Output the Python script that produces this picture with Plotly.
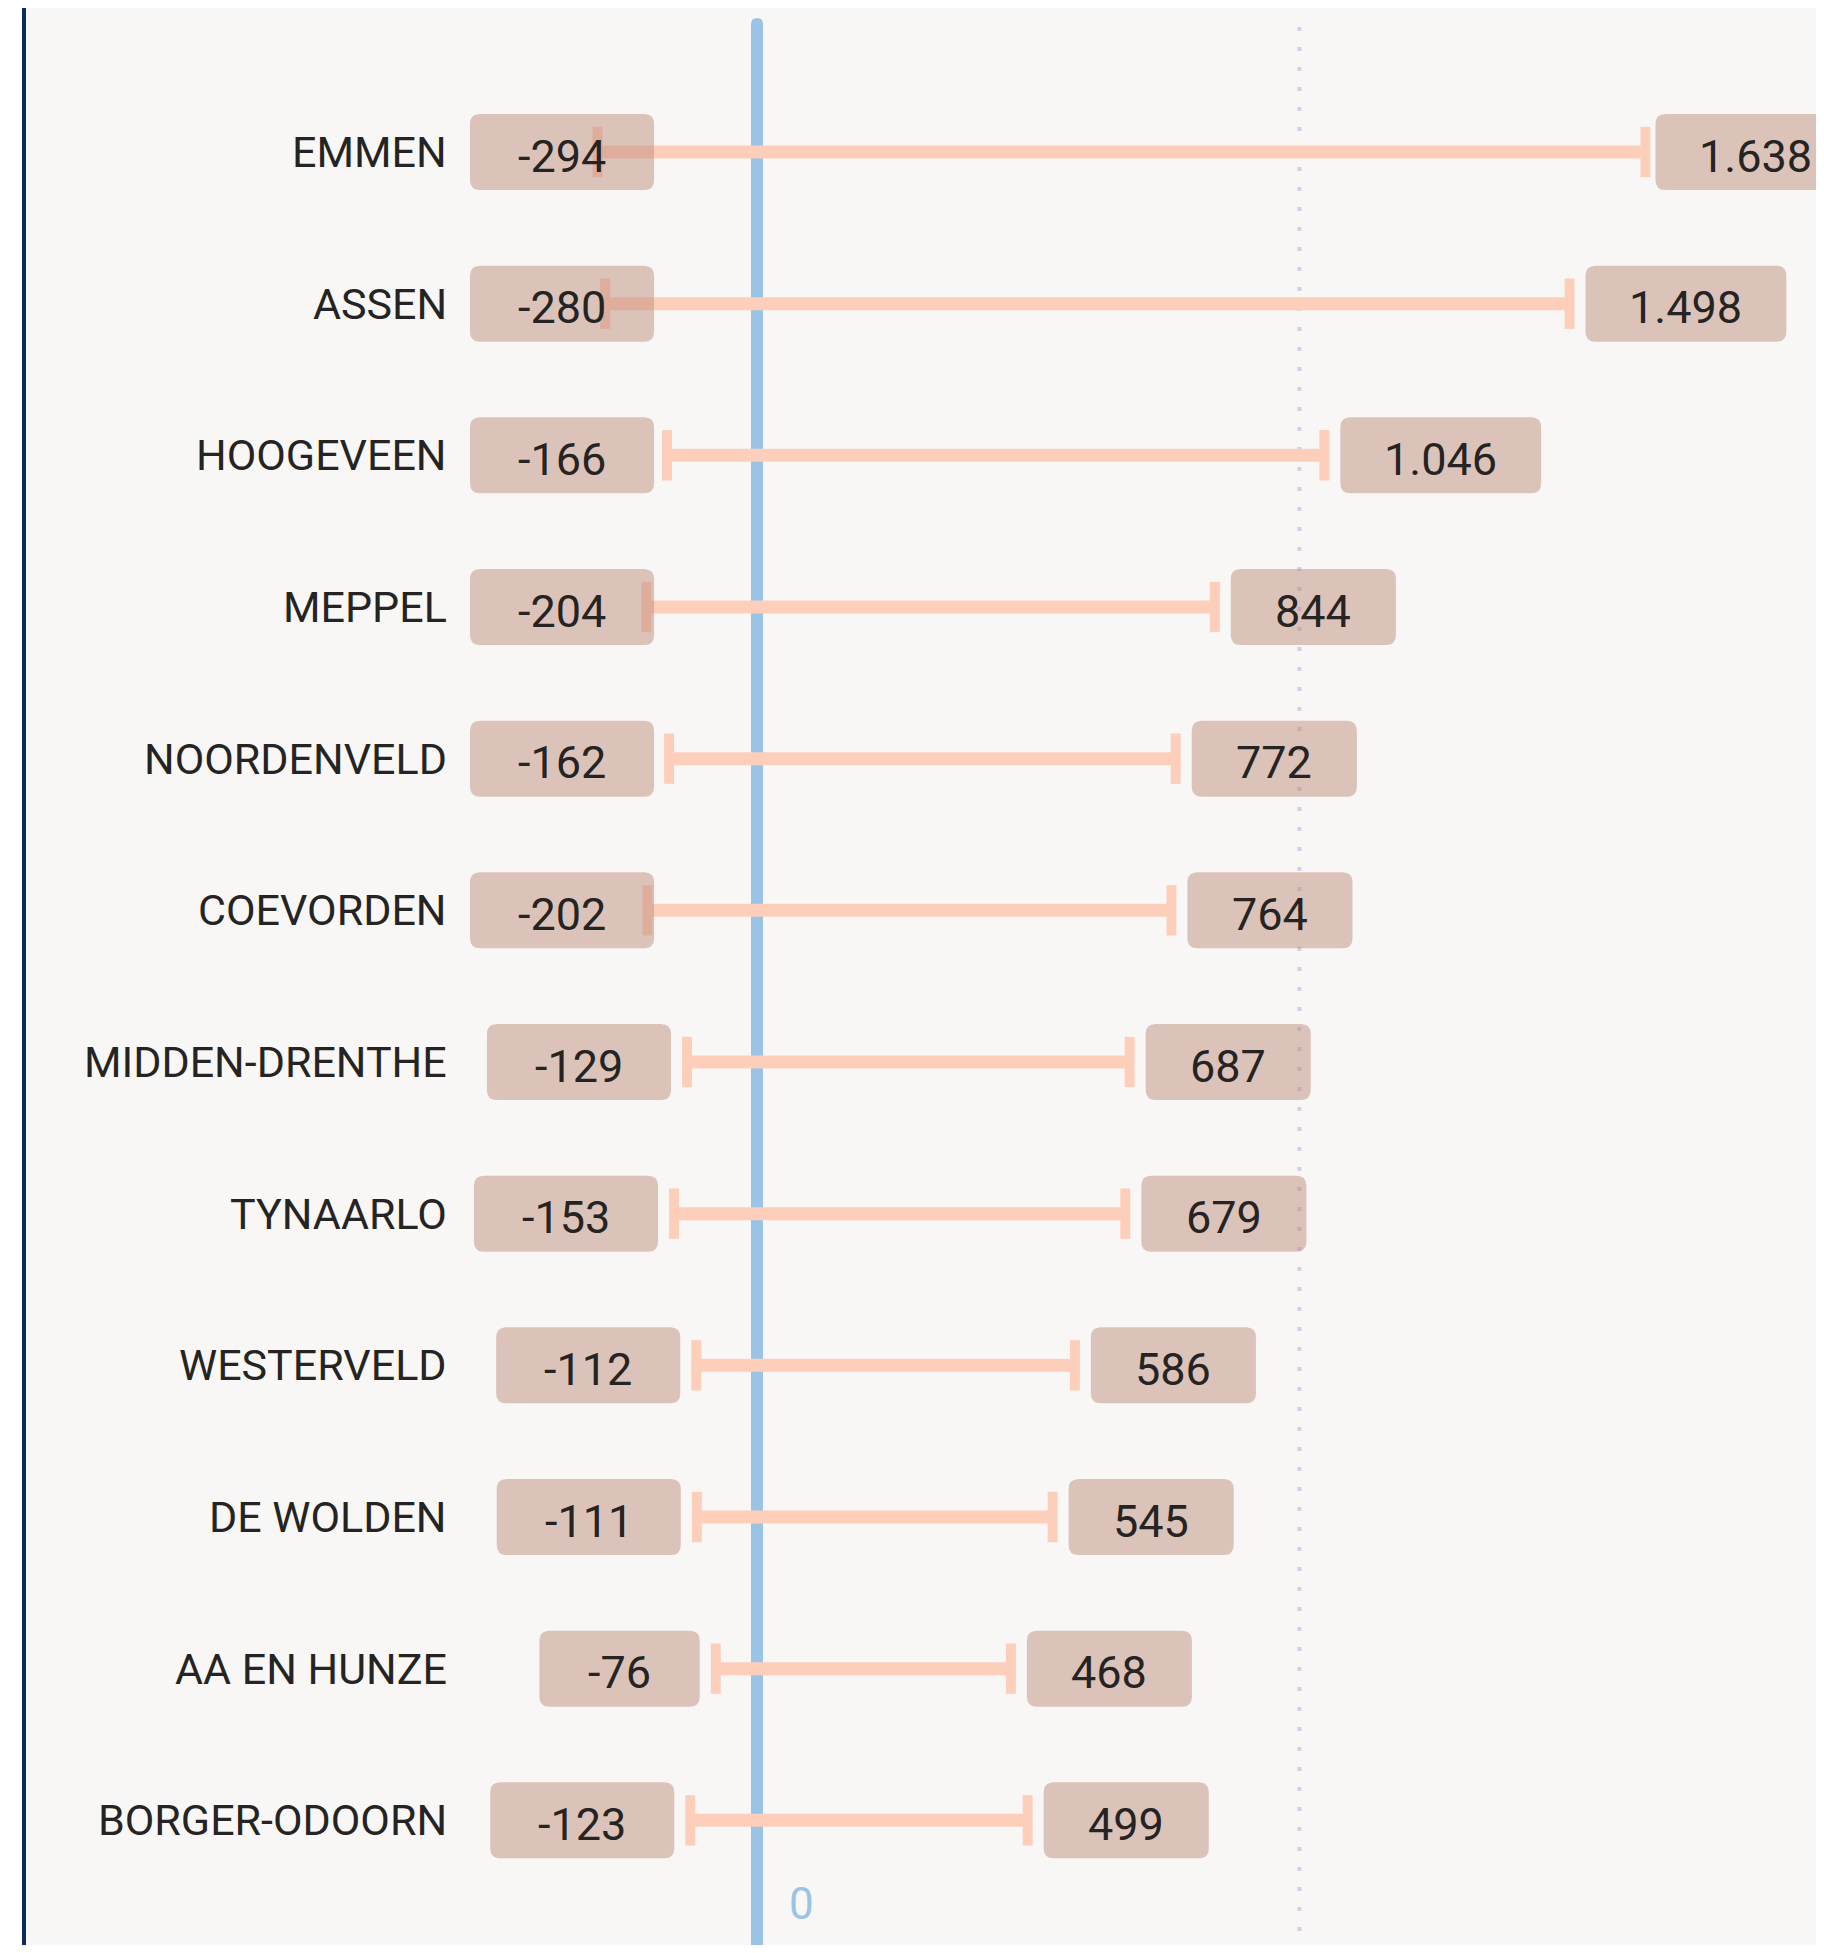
import plotly.graph_objects as go

# gemeenten, van boven naar beneden
gemeenten = ["EMMEN", "ASSEN", "HOOGEVEEN", "MEPPEL", "NOORDENVELD", "COEVORDEN",
             "MIDDEN-DRENTHE", "TYNAARLO", "WESTERVELD", "DE WOLDEN", "AA EN HUNZE",
             "BORGER-ODOORN"]
laag = [-294, -280, -166, -204, -162, -202, -129, -153, -112, -111, -76, -123]
hoog = [1638, 1498, 1046, 844, 772, 764, 687, 679, 586, 545, 468, 499]
gridwaarde = 1000

# pagina heeft 8px body-marge, dus figuur iets kleiner dan het venster
W, H = 1808, 1937
ML = 14
X0, X1 = -1355.1, 1952.4
Y0, Y1 = 11.822, -0.9495

FONT = "Roboto, Liberation Sans, sans-serif"
TXT = "#252423"
LIJN = "#FDCFBB"
VAL = 45


def px(v):
    return ML + (v - X0) / (X1 - X0) * (W - ML)


def fmt(v):
    return f"{v:,}".replace(",", ".")


def boxbreedte(s):
    w = 0
    for c in s:
        if c == "-":
            w += 19
        elif c == ".":
            w += 12
        else:
            w += 23.7
    return w + 94


def rrect(a, b, h=38, r=10):
    return (f"M{a+r},{-h} L{b-r},{-h} Q{b},{-h} {b},{-h+r} L{b},{h-r} Q{b},{h} {b-r},{h} "
            f"L{a+r},{h} Q{a},{h} {a},{h-r} L{a},{-h+r} Q{a},{-h} {a+r},{-h} Z")


fig = go.Figure()

idx = list(range(len(gemeenten)))

# balken
xs, ys = [], []
for i in idx:
    xs += [laag[i], hoog[i], None]
    ys += [i, i, None]
fig.add_trace(go.Scatter(x=xs, y=ys, mode="lines", line=dict(color=LIJN, width=13),
                         hoverinfo="skip"))
fig.add_trace(go.Scatter(x=laag + hoog, y=idx + idx, mode="markers",
                         marker=dict(symbol="line-ns", size=36,
                                     line=dict(color=LIJN, width=10)),
                         hoverinfo="skip"))

shapes = []
# nullijn met ronde bovenkant
ytop = 1 - 10 / H
r = 6 / H
shapes.append(dict(type="path", xref="x", yref="paper", xsizemode="pixel", xanchor=0,
                   path=f"M-6,0 L-6,{ytop-r} Q-6,{ytop} 0,{ytop} Q6,{ytop} 6,{ytop-r} L6,0 Z",
                   fillcolor="#9BC3E6", line=dict(width=0), layer="below"))
# stippellijn (van boven naar beneden)
shapes.append(dict(type="line", xref="x", yref="paper", x0=gridwaarde, x1=gridwaarde,
                   y0=1 - 19 / H, y1=0, line=dict(color="#D2CFE6", width=4, dash="4px,16px"),
                   layer="below"))
# linkerrand
shapes.append(dict(type="rect", xref="paper", yref="paper", xsizemode="pixel", xanchor=0,
                   x0=0, x1=4, y0=0, y1=1, fillcolor="#0B2D5C", line=dict(width=0),
                   layer="above"))

annotations = []
for i in idx:
    annotations.append(dict(xref="paper", x=0, xanchor="right", xshift=427,
                            yref="y", y=i, text=gemeenten[i], showarrow=False,
                            font=dict(family=FONT, size=43, color=TXT)))
    # label links
    t = fmt(laag[i])
    bw = boxbreedte(t)
    cap = px(laag[i])
    rechts = max(cap - 16, 462 + bw) - cap
    links = rechts - bw
    shapes.append(dict(type="path", xref="x", yref="y", xsizemode="pixel", ysizemode="pixel",
                       xanchor=laag[i], yanchor=i, path=rrect(links, rechts),
                       fillcolor="#BA8877", opacity=0.47, line=dict(width=0), layer="above"))
    annotations.append(dict(x=laag[i], y=i, xshift=(links + rechts) / 2, yshift=-4,
                            text=t, showarrow=False,
                            font=dict(family=FONT, size=VAL, color=TXT)))
    # label rechts
    t = fmt(hoog[i])
    bw = boxbreedte(t)
    cap = px(hoog[i])
    links = 16 if cap + 16 + bw <= W else 10
    rechts = links + bw
    shapes.append(dict(type="path", xref="x", yref="y", xsizemode="pixel", ysizemode="pixel",
                       xanchor=hoog[i], yanchor=i, path=rrect(links, rechts),
                       fillcolor="#BA8877", opacity=0.47, line=dict(width=0), layer="above"))
    annotations.append(dict(x=hoog[i], y=i, xshift=(links + rechts) / 2, yshift=-4,
                            text=t, showarrow=False,
                            font=dict(family=FONT, size=VAL, color=TXT)))

annotations.append(dict(x=0, xanchor="left", xshift=30, yref="paper", y=(H - 1896) / H,
                        yanchor="middle", text="0", showarrow=False,
                        font=dict(family=FONT, size=44, color="#9BC3E6")))

fig.update_layout(
    width=W, height=H,
    margin=dict(l=ML, r=0, t=0, b=0),
    paper_bgcolor="white", plot_bgcolor="#F8F7F6",
    showlegend=False,
    xaxis=dict(range=[X0, X1], showgrid=False, zeroline=False, showticklabels=False,
               fixedrange=True),
    yaxis=dict(range=[Y0, Y1], showgrid=False, zeroline=False, showticklabels=False,
               fixedrange=True),
    shapes=shapes,
    annotations=annotations,
)
fig.write_html("out.html")
